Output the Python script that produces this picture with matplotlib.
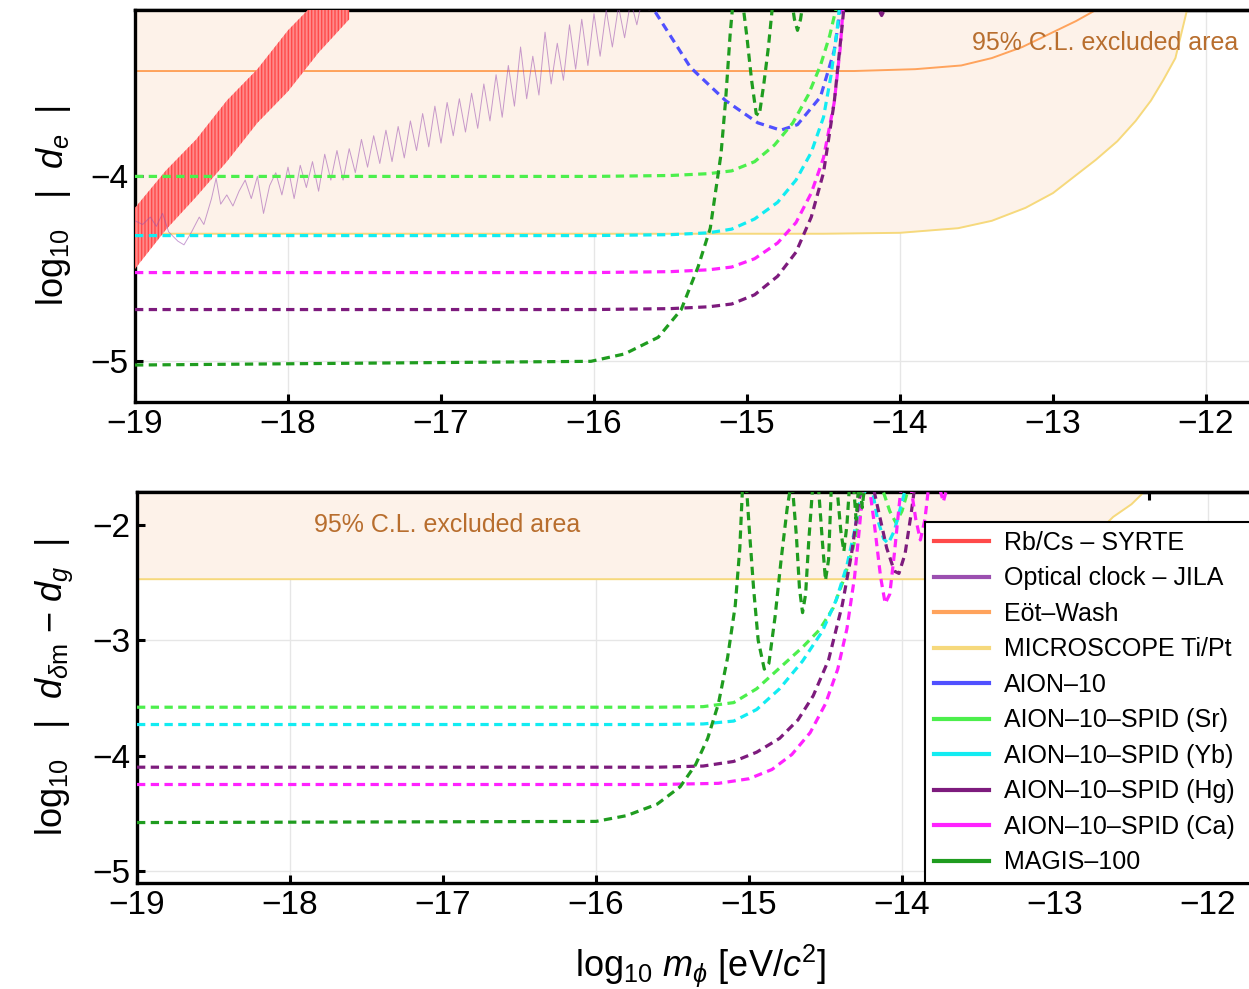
import numpy as np
import matplotlib
matplotlib.use("Agg")
import matplotlib.pyplot as plt
from matplotlib.lines import Line2D

plt.rcParams['font.family'] = ['Liberation Sans', 'DejaVu Sans']
plt.rcParams['mathtext.fontset'] = 'custom'
plt.rcParams['mathtext.rm'] = 'Liberation Sans'
plt.rcParams['mathtext.it'] = 'Liberation Sans:italic'
plt.rcParams['hatch.linewidth'] = 1.0

# ---------------- data: top panel, log10 |d_e| ----------------
rb_m = [-19.0, -18.8, -18.6, -18.4, -18.2, -18.0, -17.8, -17.6]
rb_hi = [-4.17, -3.97, -3.80, -3.59, -3.42, -3.21, -3.04, -2.84]
rb_lo = [-4.50, -4.29, -4.11, -3.92, -3.71, -3.54, -3.33, -3.15]

jila_m = [-19.00, -18.95, -18.90, -18.86, -18.82, -18.78, -18.72, -18.68, -18.63, -18.58,
          -18.55, -18.50, -18.47, -18.44, -18.40, -18.36, -18.32, -18.28, -18.24, -18.20,
          -18.16, -18.12, -18.08, -18.04, -18.00, -17.96, -17.92, -17.88, -17.84, -17.80,
          -17.76, -17.72, -17.68, -17.64, -17.60, -17.56, -17.52, -17.48, -17.44, -17.40,
          -17.36, -17.32, -17.28, -17.24, -17.20, -17.16, -17.12, -17.08, -17.04, -17.00,
          -16.96, -16.92, -16.88, -16.84, -16.80, -16.76, -16.72, -16.68, -16.64, -16.60,
          -16.56, -16.52, -16.48, -16.44, -16.40, -16.36, -16.32, -16.28, -16.24, -16.20,
          -16.16, -16.12, -16.08, -16.04, -16.00, -15.96, -15.92, -15.88, -15.84, -15.80,
          -15.76, -15.72, -15.68, -15.64, -15.60]
jila_d = [-4.24, -4.26, -4.22, -4.27, -4.20, -4.30, -4.35, -4.37, -4.30, -4.22,
          -4.26, -4.12, -4.01, -4.15, -4.10, -4.16, -4.08, -4.02, -4.12, -4.00,
          -4.20, -4.05, -3.98, -4.10, -3.95, -4.12, -3.94, -4.06, -3.92, -4.08,
          -3.88, -4.02, -3.86, -4.02, -3.85, -3.98, -3.80, -3.95, -3.78, -3.93,
          -3.75, -3.92, -3.73, -3.90, -3.70, -3.86, -3.66, -3.84, -3.62, -3.82,
          -3.60, -3.78, -3.58, -3.76, -3.55, -3.74, -3.50, -3.70, -3.45, -3.68,
          -3.40, -3.62, -3.30, -3.58, -3.35, -3.56, -3.22, -3.50, -3.28, -3.48,
          -3.18, -3.42, -3.15, -3.40, -3.12, -3.35, -3.10, -3.30, -3.08, -3.25,
          -3.05, -3.18, -3.02, -3.10, -3.00]

eot_m = [-19.0, -14.3, -13.9, -13.6, -13.4, -13.2, -13.0, -12.85, -12.72, -12.6]
eot_d = [-3.43, -3.43, -3.42, -3.40, -3.36, -3.30, -3.22, -3.16, -3.10, -3.03]

mic_m = [-19.0, -14.5, -14.0, -13.62, -13.4, -13.18, -13.0, -12.86, -12.72, -12.58,
         -12.46, -12.36, -12.28, -12.2, -12.13, -12.08]
mic_d = [-4.31, -4.31, -4.305, -4.28, -4.24, -4.17, -4.09, -4.0, -3.91, -3.81,
         -3.70, -3.59, -3.48, -3.36, -3.12, -2.95]

aion_m = [-15.65, -15.6, -15.37, -15.14, -14.93, -14.78, -14.67, -14.52, -14.43, -14.39, -14.37]
aion_d = [-3.05, -3.11, -3.41, -3.59, -3.71, -3.75, -3.72, -3.57, -3.32, -3.10, -2.95]

sr_m = [-19, -16, -15.5, -15.25, -15.1, -14.95, -14.82, -14.7, -14.6, -14.52, -14.46, -14.42, -14.39]
sr_d = [-4.0, -4.0, -3.995, -3.985, -3.97, -3.92, -3.83, -3.71, -3.56, -3.40, -3.24, -3.1, -2.95]

yb_m = [-19, -16, -15.5, -15.25, -15.1, -14.95, -14.8, -14.68, -14.58, -14.5, -14.45, -14.41, -14.38]
yb_d = [-4.32, -4.32, -4.315, -4.305, -4.285, -4.23, -4.14, -4.02, -3.87, -3.68, -3.45, -3.2, -2.95]

ca_m = [-19, -16, -15.5, -15.25, -15.1, -14.95, -14.8, -14.68, -14.58, -14.5, -14.43, -14.39, -14.36]
ca_d = [-4.52, -4.52, -4.515, -4.505, -4.49, -4.445, -4.36, -4.25, -4.09, -3.9, -3.6, -3.3, -2.95]

hg_m = [-19, -16, -15.5, -15.25, -15.1, -14.95, -14.8, -14.68, -14.58, -14.5, -14.43, -14.38,
        -14.35, -14.2, -14.15, -14.12, -14.09, -14.05]
hg_d = [-4.72, -4.72, -4.715, -4.705, -4.69, -4.64, -4.54, -4.41, -4.22, -3.98, -3.6, -3.2,
        -2.95, -2.95, -3.08, -3.13, -3.08, -2.95]

magis_m = [-19, -16.02, -15.8, -15.58, -15.43, -15.32, -15.24, -15.17, -15.14, -15.11, -15.08,
           -15.04, -15.0, -14.97, -14.94, -14.92, -14.89, -14.86, -14.83, -14.78,
           -14.72, -14.69, -14.67, -14.65, -14.62]
magis_d = [-5.02, -5.0, -4.96, -4.87, -4.72, -4.49, -4.28, -3.88, -3.59, -3.23, -2.95,
           -2.98, -3.25, -3.48, -3.66, -3.67, -3.5, -3.3, -3.05, -2.95,
           -2.98, -3.15, -3.21, -3.15, -2.98]

# ---------------- data: bottom panel, log10 |d_dm - d_g| ----------------
mic2_m = [-19.0, -13.8, -13.4, -13.1, -12.9, -12.75, -12.62, -12.5, -12.4, -12.3]
mic2_d = [-2.47, -2.47, -2.45, -2.38, -2.27, -2.10, -1.93, -1.82, -1.69, -1.55]

sr2_m = [-19, -15.6, -15.3, -15.1, -14.95, -14.8, -14.65, -14.54, -14.45, -14.38, -14.32,
         -14.27, -14.24, -14.15, -14.08, -14.04, -14.0, -13.94]
sr2_d = [-3.58, -3.58, -3.575, -3.54, -3.42, -3.24, -3.06, -2.91, -2.72, -2.47, -2.2,
         -1.9, -1.65, -1.6, -1.88, -1.98, -1.88, -1.6]

yb2_m = [-19, -15.6, -15.3, -15.1, -14.95, -14.8, -14.65, -14.52, -14.43, -14.36, -14.31,
         -14.27, -14.2, -14.16, -14.12, -14.09, -14.05, -14.0, -13.97]
yb2_d = [-3.73, -3.73, -3.725, -3.70, -3.60, -3.42, -3.18, -2.92, -2.65, -2.35, -2.05,
         -1.75, -1.65, -1.95, -2.12, -2.16, -2.05, -1.8, -1.65]

hg2_m = [-19, -15.6, -15.3, -15.1, -14.95, -14.8, -14.68, -14.58, -14.48, -14.39, -14.33,
         -14.29, -14.26, -14.2, -14.15, -14.1, -14.05, -14.02, -13.98, -13.94, -13.91]
hg2_d = [-4.10, -4.10, -4.09, -4.05, -3.97, -3.85, -3.69, -3.48, -3.17, -2.69, -2.25,
         -1.88, -1.6, -1.6, -1.9, -2.2, -2.4, -2.42, -2.25, -1.9, -1.6]

ca2_m = [-19, -15.6, -15.2, -15.0, -14.85, -14.72, -14.6, -14.5, -14.42, -14.36, -14.31,
         -14.28, -14.25, -14.22, -14.18, -14.14, -14.11, -14.08, -14.05, -14.02, -14.0,
         -13.95, -13.91, -13.88, -13.85, -13.82, -13.77, -13.73, -13.69]
ca2_d = [-4.25, -4.25, -4.24, -4.2, -4.12, -3.99, -3.8, -3.55, -3.25, -2.9, -2.45,
         -2.05, -1.6, -1.6, -2.0, -2.45, -2.68, -2.6, -2.25, -1.85, -1.6,
         -1.6, -1.95, -2.13, -1.95, -1.6, -1.6, -1.8, -1.6]

magis2_m = [-19, -16.0, -15.8, -15.6, -15.45, -15.35, -15.27, -15.2, -15.14, -15.09, -15.06,
            -15.04, -15.02, -15.0, -14.97, -14.94, -14.9, -14.87, -14.83, -14.79, -14.75,
            -14.72, -14.69, -14.67, -14.65, -14.63, -14.61, -14.58, -14.55, -14.52, -14.50,
            -14.48, -14.46, -14.43, -14.40, -14.38, -14.36, -14.34, -14.32, -14.30, -14.28,
            -14.26, -14.24]
magis2_d = [-4.58, -4.57, -4.52, -4.42, -4.27, -4.08, -3.85, -3.55, -3.15, -2.7, -2.2,
            -1.6, -1.6, -2.0, -2.55, -3.0, -3.25, -3.2, -2.8, -2.3, -1.85,
            -1.6, -2.1, -2.55, -2.76, -2.6, -2.15, -1.6, -1.6, -2.15, -2.48,
            -2.3, -1.6, -1.6, -2.05, -2.23, -2.0, -1.6, -1.6, -1.95, -1.6,
            -1.85, -1.6]

legend_labels = ['Rb/Cs – SYRTE', 'Optical clock – JILA', 'Eöt–Wash', 'MICROSCOPE Ti/Pt',
                 'AION–10', 'AION–10–SPID (Sr)', 'AION–10–SPID (Yb)', 'AION–10–SPID (Hg)',
                 'AION–10–SPID (Ca)', 'MAGIS–100']

# colours
c_rb = '#ff4a4a'
c_jila = '#9b4fb0'
c_eot = '#ffa35c'
c_mic = '#f6d97c'
c_aion = '#5050ff'
c_sr = '#4cef4c'
c_yb = '#12ecf2'
c_hg = '#7d1b7d'
c_ca = '#ff22ff'
c_magis = '#1f9c1f'
c_fill = '#fdf2e9'
c_text = '#b86e2e'
legend_colors = [c_rb, c_jila, c_eot, c_mic, c_aion, c_sr, c_yb, c_hg, c_ca, c_magis]

W, H = 1249, 989
fig = plt.figure(figsize=(W / 100, H / 100), dpi=100)
xmax = -19 + (1262 - 135) / 153.0
ax1 = fig.add_axes([135 / W, 1 - 402 / H, (1262 - 135) / W, (402 - 10) / H])
ax2 = fig.add_axes([137 / W, 1 - 883 / H, (1262 - 135) / W, (883 - 492) / H])

dash = dict(linestyle=(0, (2.6, 1.7)), linewidth=2.3, zorder=5)


def style_axes(ax, ylim, yticks, ygrid):
    ax.set_xlim(-19, xmax)
    ax.set_ylim(*ylim)
    for x in [-18, -16, -14, -12]:
        ax.axvline(x, color='#e6e6e6', lw=1.0, zorder=0)
    for y in ygrid:
        ax.axhline(y, color='#e6e6e6', lw=1.0, zorder=0)
    ax.set_xticks(range(-19, -11))
    ax.set_yticks(yticks)
    ax.tick_params(direction='in', length=6, width=2.2, labelsize=24, pad=5,
                   top=False, right=False)
    for s in ax.spines.values():
        s.set_linewidth(2.4)
    # frequency ticks on the top frame
    top = ax.secondary_xaxis('top')
    top.set_xticks([k - 14.383 for k in range(-4, 3)])
    top.tick_params(direction='in', length=6, width=2.2, labeltop=False)
    top.spines['top'].set_linewidth(2.4)


# ---------------- top panel ----------------
style_axes(ax1, (-5.22, -3.10), [-5, -4], [-5])
ax1.fill_between(mic_m, mic_d, 0, color=c_fill, lw=0, zorder=1)
ax1.plot(mic_m, mic_d, color=c_mic, lw=1.4, zorder=2)
ax1.plot(eot_m, eot_d, color=c_eot, lw=1.4, zorder=2)
ax1.fill_between(rb_m, rb_lo, rb_hi, facecolor='#ff8a8a', edgecolor=c_rb,
                 hatch='|||||', lw=0, zorder=3)
ax1.plot(jila_m, jila_d, color=c_jila, lw=0.7, alpha=0.55, zorder=3)
ax1.plot(aion_m, aion_d, color=c_aion, **dash)
ax1.plot(sr_m, sr_d, color=c_sr, **dash)
ax1.plot(yb_m, yb_d, color=c_yb, **dash)
ax1.plot(ca_m, ca_d, color=c_ca, **dash)
ax1.plot(hg_m, hg_d, color=c_hg, **dash)
ax1.plot(magis_m, magis_d, color=c_magis, **dash)
fig.text(1238 / W, 1 - 43 / H, '95% C.L. excluded area', ha='right', va='center',
         fontsize=18, color=c_text, zorder=6)
ax1.set_ylabel(r'log$_{10}$   |  $d_e$  |', fontsize=26, labelpad=12)

# ---------------- bottom panel ----------------
style_axes(ax2, (-5.104, -1.714), [-5, -4, -3, -2], [-5, -3])
ax2.fill_between(mic2_m, mic2_d, 0, color=c_fill, lw=0, zorder=1)
ax2.plot(mic2_m, mic2_d, color=c_mic, lw=1.4, zorder=2)
ax2.plot(sr2_m, sr2_d, color=c_sr, **dash)
ax2.plot(yb2_m, yb2_d, color=c_yb, **dash)
ax2.plot(hg2_m, hg2_d, color=c_hg, **dash)
ax2.plot(ca2_m, ca2_d, color=c_ca, **dash)
ax2.plot(magis2_m, magis2_d, color=c_magis, **dash)
ax2.text(-16.97, -2.0, '95% C.L. excluded area', ha='center', va='center',
         fontsize=18, color=c_text, zorder=6)
ax2.set_ylabel(r'log$_{10}$   |  $d_{\delta\mathrm{m}}$ $-$ $d_g$  |', fontsize=26, labelpad=12)
ax2.set_xlabel(r'log$_{10}$ $m_\phi$ [eV/$c^2$]', fontsize=26, labelpad=16)

handles = [Line2D([], [], color=c, lw=3) for c in legend_colors]
leg = ax2.legend(handles, legend_labels, loc='lower left', mode='expand',
                 bbox_to_anchor=(925 / W, 1 - 883 / H, (1262 - 925) / W, 0.4),
                 bbox_transform=fig.transFigure,
                 borderaxespad=0, fontsize=18, handlelength=2.2, handletextpad=0.6,
                 labelspacing=0.46, borderpad=0.35, fancybox=False, framealpha=1)
leg.get_frame().set_edgecolor('black')
leg.get_frame().set_linewidth(1.5)
leg.set_zorder(10)

fig.savefig('out.png', dpi=100)
